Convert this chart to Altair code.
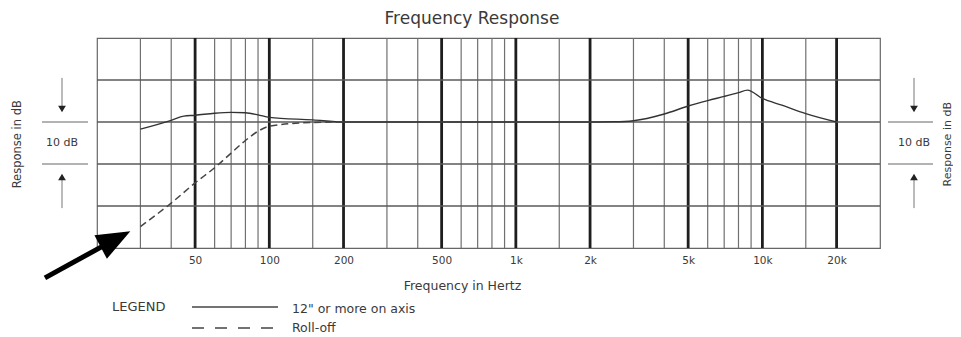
import altair as alt
import pandas as pd

# ---------------- data ----------------
thin_freqs = [30, 40, 60, 70, 80, 90, 150, 300, 400, 600, 700, 800, 900, 1500,
              3000, 4000, 6000, 7000, 8000, 9000, 15000]
thick_freqs = [50, 100, 200, 500, 1000, 2000, 5000, 10000, 20000]
tick_labels = ["50", "100", "200", "500", "1k", "2k", "5k", "10k", "20k"]
db_lines = [-20, -10, 0, 10]

onaxis_freq = [30, 40, 45, 50, 60, 70, 80, 90, 100, 150, 200, 500, 1000, 2000,
               2500, 3000, 4000, 5000, 6000, 7000, 8000, 8700, 10000, 12000, 15000, 20000]
onaxis_db = [-1.7, 0.4, 1.4, 1.6, 2.1, 2.3, 2.2, 1.7, 1.1, 0.5, 0.0, 0.0, 0.0, 0.0,
             0.05, 0.3, 1.9, 3.8, 5.1, 6.1, 7.0, 7.6, 5.6, 4.0, 2.0, 0.0]

rolloff_freq = [30, 40, 50, 60, 70, 80, 90, 100, 150, 200]
rolloff_db = [-24.9, -19.3, -14.5, -10.9, -7.4, -4.4, -2.2, -1.0, -0.1, 0.0]

# annotation arrow (in Hz / dB)
arrow_tail = (12.3, -37.1)
arrow_head = (23.6, -28.0)

# bracket marks (dB)
bracket_lines = [0, -10]

FONT = "DejaVu Sans"
TXT = "#3a3a3a"

W, H = 783, 210
xs = alt.Scale(type="log", domain=[20, 30000], nice=False)
ys = alt.Scale(domain=[-30, 20], nice=False, zero=False)

label_map = "{" + ",".join(f"'{f}':'{l}'" for f, l in zip(thick_freqs, tick_labels)) + "}"
xaxis = alt.Axis(values=thick_freqs, labelExpr=label_map + "[''+datum.value]",
                 domain=False, ticks=False, grid=False, labelPadding=7,
                 labelFont=FONT, labelFontSize=10.5, labelColor=TXT,
                 labelFlush=False, labelOverlap=False,
                 title="Frequency in Hertz", titleFont=FONT, titleFontSize=12.5,
                 titleFontWeight="normal", titleColor=TXT, titleX=365, titleY=37,
                 titleBaseline="middle")

X = alt.X("f:Q", scale=xs, axis=xaxis)
Y = alt.Y("db:Q", scale=ys, axis=None)

thin_df = pd.DataFrame({"f": thin_freqs})
thick_df = pd.DataFrame({"f": thick_freqs})
h_df = pd.DataFrame({"db": db_lines})
on_df = pd.DataFrame({"f": onaxis_freq, "db": onaxis_db})
ro_df = pd.DataFrame({"f": rolloff_freq, "db": rolloff_db})
br_df = pd.DataFrame({"db": bracket_lines})
one = pd.DataFrame({"k": [0]})

thin = alt.Chart(thin_df).mark_rule(color="#707070", strokeWidth=1.2).encode(x=X)
thick = alt.Chart(thick_df).mark_rule(color="#1e1e1e", strokeWidth=2.8).encode(x=X)
hgrid = alt.Chart(h_df).mark_rule(color="#5a5a5a", strokeWidth=1.3).encode(y=Y)

solid = alt.Chart(on_df).mark_line(color="#333", strokeWidth=1.4, interpolate="monotone").encode(x=X, y=Y)
dashed = alt.Chart(ro_df).mark_line(color="#444", strokeWidth=1.5, strokeDash=[7, 4],
                                    interpolate="monotone").encode(x=X, y=Y)

# arrow pointing at roll-off curve
arrow_df = pd.DataFrame({"f": [arrow_tail[0]], "db": [arrow_tail[1]],
                         "f2": [arrow_head[0]], "db2": [arrow_head[1]]})
arrow_shaft = alt.Chart(arrow_df).mark_rule(color="black", strokeWidth=5, clip=False).encode(
    x=X, y=Y, x2="f2:Q", y2="db2:Q")
arrow_tip = alt.Chart(pd.DataFrame({"f": [arrow_head[0]], "db": [arrow_head[1]]})).mark_point(
    shape="M0,-1L0.75,0.9L-0.75,0.9Z", filled=True, color="black", opacity=1,
    size=1250, angle=62, clip=False).encode(x=X, y=Y)

layers = [thin, thick, hgrid, solid, dashed, arrow_shaft, arrow_tip]

# side brackets (left and right)
for lx1, lx2, ax, tx, tsize in [(-55, -9, -35, -79, 11.5), (791, 836, 817, 851, 11)]:
    layers.append(alt.Chart(br_df).mark_rule(color="#666", strokeWidth=1).encode(
        y=Y, x=alt.value(lx1), x2=alt.value(lx2)))
    layers.append(alt.Chart(pd.DataFrame({"db": [10.5], "db2": [3.0]})).mark_rule(
        color="#777", strokeWidth=1).encode(x=alt.value(ax), y=Y, y2="db2:Q"))
    layers.append(alt.Chart(pd.DataFrame({"db": [-13.0], "db2": [-20.5]})).mark_rule(
        color="#777", strokeWidth=1).encode(x=alt.value(ax), y=Y, y2="db2:Q"))
    layers.append(alt.Chart(pd.DataFrame({"db": [3.1]})).mark_point(
        shape="triangle-down", filled=True, color="#222", opacity=1, size=60).encode(
        x=alt.value(ax), y=Y))
    layers.append(alt.Chart(pd.DataFrame({"db": [-13.1]})).mark_point(
        shape="triangle-up", filled=True, color="#222", opacity=1, size=60).encode(
        x=alt.value(ax), y=Y))
    layers.append(alt.Chart(pd.DataFrame({"db": [-5], "t": ["10 dB"]})).mark_text(
        font=FONT, fontSize=11, color=TXT, baseline="middle").encode(
        x=alt.value(ax), y=Y, text="t:N"))
    layers.append(alt.Chart(pd.DataFrame({"db": [-5.3], "t": ["Response in dB"]})).mark_text(
        font=FONT, fontSize=tsize, color=TXT, angle=270, baseline="middle").encode(
        x=alt.value(tx), y=Y, text="t:N"))

# title
layers.append(alt.Chart(one).mark_text(font=FONT, fontSize=17, color=TXT, baseline="middle").encode(
    x=alt.value(375), y=alt.value(-19), text=alt.value("Frequency Response")))

# legend
layers.append(alt.Chart(one).mark_text(font=FONT, fontSize=13, color=TXT, align="left",
                                       baseline="middle").encode(
    x=alt.value(15), y=alt.value(269), text=alt.value("LEGEND")))
layers.append(alt.Chart(one).mark_rule(color="#444", strokeWidth=1.4).encode(
    x=alt.value(95), x2=alt.value(181), y=alt.value(269)))
layers.append(alt.Chart(one).mark_rule(color="#444", strokeWidth=1.4, strokeDash=[12, 11]).encode(
    x=alt.value(95), x2=alt.value(178), y=alt.value(290)))
layers.append(alt.Chart(one).mark_text(font=FONT, fontSize=12.5, color=TXT, align="left",
                                       baseline="middle").encode(
    x=alt.value(195), y=alt.value(271), text=alt.value('12" or more on axis')))
layers.append(alt.Chart(one).mark_text(font=FONT, fontSize=12.5, color=TXT, align="left",
                                       baseline="middle").encode(
    x=alt.value(195), y=alt.value(290), text=alt.value("Roll-off")))

chart = alt.layer(*layers).properties(
    width=W, height=H,
    autosize=alt.AutoSizeParams(type="none"),
    padding={"left": 89, "top": 30, "right": 73, "bottom": 89},
    background="white",
).configure_view(stroke="#666", strokeWidth=1.2)

chart.save("out.html", embed_options={"renderer": "svg", "actions": False})
